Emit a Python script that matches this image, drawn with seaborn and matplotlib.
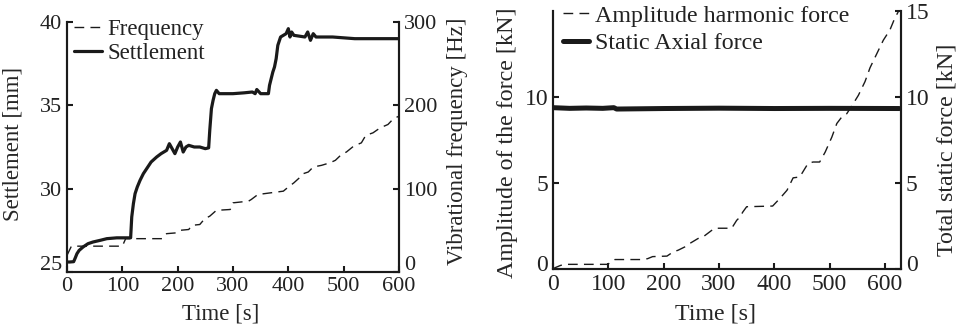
import matplotlib
matplotlib.use("Agg")
import matplotlib.pyplot as plt
import matplotlib.transforms as mtransforms
import seaborn as sns

# ---------------- data ----------------
settle_t = [0, 5, 12, 15, 18, 22, 29, 38, 47, 60, 72, 90, 108, 115, 117, 120, 123, 127,
            132, 138, 144, 152, 162, 170, 180, 185, 190, 195, 200, 205, 210, 215, 220,
            230, 240, 250, 256, 258, 261, 264, 267, 270, 275, 285, 300, 320, 335, 340,
            343, 350, 364, 366, 369, 372, 375, 378, 381, 386, 391, 396, 400, 403, 406,
            410, 420, 430, 435, 440, 445, 450, 460, 480, 500, 520, 540, 560, 580, 600]
settle_mm = [25.6, 25.6, 25.62, 25.85, 26.1, 26.3, 26.5, 26.7, 26.8, 26.9, 27.0, 27.05,
             27.05, 27.05, 28.3, 29.1, 29.7, 30.1, 30.5, 30.9, 31.2, 31.6, 31.9, 32.1,
             32.3, 32.7, 32.4, 32.1, 32.5, 32.8, 32.2, 32.5, 32.6, 32.5, 32.5, 32.4,
             32.45, 33.5, 34.8, 35.3, 35.7, 35.9, 35.7, 35.7, 35.7, 35.75, 35.8, 35.7,
             35.95, 35.7, 35.7, 36.2, 36.6, 37.0, 37.3, 37.8, 38.6, 39.1, 39.2, 39.3,
             39.6, 39.1, 39.4, 39.2, 39.15, 39.1, 39.4, 38.9, 39.3, 39.1, 39.1, 39.1,
             39.05, 39.0, 39.0, 39.0, 39.0, 39.0]

freq_t = [0, 8, 100, 106, 172, 180, 198, 204, 220, 226, 240, 249, 258, 270, 295, 300,
          328, 333, 345, 391, 400, 410, 420, 427, 436, 445, 460, 475, 485, 496, 505,
          518, 532, 540, 553, 566, 580, 590, 600]
freq_hz = [20, 31, 31, 40, 40, 46, 47, 50, 51, 56, 57, 64, 67, 74, 75, 83, 85, 87, 93,
           97, 102, 107, 113, 118, 120, 126, 128, 131, 134, 141, 144, 151, 155, 164,
           167, 173, 177, 184, 187]

amp_t = [0, 4, 13, 20, 99, 106, 112, 161, 171, 180, 206, 217, 226, 238, 247, 262, 271,
         287, 292, 323, 332, 338, 343, 350, 397, 410, 423, 434, 446, 461, 470, 482, 492,
         504, 513, 522, 531, 543, 552, 564, 573, 585, 597, 609, 618, 624]
amp_kn = [0.0, 0.08, 0.2, 0.27, 0.27, 0.45, 0.55, 0.55, 0.6, 0.72, 0.75, 0.99, 1.09,
          1.28, 1.48, 1.77, 1.86, 2.25, 2.37, 2.37, 2.83, 3.02, 3.31, 3.62, 3.66, 4.1,
          4.58, 5.3, 5.35, 6.14, 6.22, 6.22, 6.8, 7.67, 8.46, 8.84, 9.03, 9.63, 10.1,
          10.9, 11.7, 12.5, 13.3, 13.9, 14.6, 14.95]

static_t = [0, 30, 60, 90, 110, 115, 200, 300, 400, 500, 626]
static_kn = [9.38, 9.34, 9.36, 9.34, 9.38, 9.30, 9.33, 9.35, 9.33, 9.34, 9.33]

x_ticks = [0, 100, 200, 300, 400, 500, 600]
settle_ticks = [25, 30, 35, 40]
freq_ticks = [0, 100, 200, 300]
amp_ticks = [0, 5, 10]
static_ticks = [0, 5, 10, 15]

# ---------------- style ----------------
sns.set_theme(style="ticks")
plt.rcParams["font.family"] = ["Liberation Serif", "DejaVu Serif"]
plt.rcParams["axes.linewidth"] = 1.5
plt.rcParams["text.color"] = "#222222"

W, H = 962, 333
fig = plt.figure(figsize=(W / 100, H / 100), dpi=100)

def px_axes(l, t, r, b):
    return fig.add_axes([l / W, 1 - b / H, (r - l) / W, (b - t) / H])

dash = (0, (7, 4.5))
ink = "#1a1a1a"

def style_axes(ax, side, fs):
    ax.set_facecolor("none")
    ax.spines["top"].set_visible(False)
    for s in ["left", "right", "bottom"]:
        ax.spines[s].set_color(ink)
        ax.spines[s].set_linewidth(1.5)
    ax.tick_params(axis="both", direction="in", length=4, width=1.5, colors=ink,
                   labelsize=fs, pad=3.5, labelcolor="#222222")
    if side == "left":
        ax.tick_params(axis="y", left=True, right=False, labelleft=True, labelright=False)
    else:
        ax.tick_params(axis="y", left=False, right=True, labelleft=False, labelright=True)

def lift_first_label(ax, pixels):
    tick = ax.yaxis.get_major_ticks()[0]
    off = mtransforms.ScaledTranslation(0, pixels / 100, fig.dpi_scale_trans)
    for lab in (tick.label1, tick.label2):
        lab.set_transform(lab.get_transform() + off)

# ---------------- left panel ----------------
ax1 = px_axes(67, 22, 399, 272)
ax2 = ax1.twinx()
sns.lineplot(x=settle_t, y=settle_mm, ax=ax1, color=ink, linewidth=2.3, sort=False,
             label="Settlement", legend=False)
sns.lineplot(x=freq_t, y=freq_hz, ax=ax2, color=ink, linewidth=1.0, linestyle=dash,
             sort=False, label="Frequency", legend=False)
ax1.set_xlim(0, 600)
ax1.set_ylim(25, 40)
ax2.set_ylim(0, 300)
ax1.set_xticks(x_ticks)
ax1.set_yticks(settle_ticks)
ax2.set_yticks(freq_ticks)
style_axes(ax1, "left", 16)
style_axes(ax2, "right", 16)
ax2.tick_params(axis="x", bottom=False, labelbottom=False)
ax1.set_xlabel("Time [s]", fontsize=16.5)
ax1.set_ylabel("Settlement [mm]", fontsize=16.5)
ax2.set_ylabel("Vibrational frequency [Hz]", fontsize=16.5)
ax1.xaxis.set_label_coords(0.462, -0.125)
ax1.yaxis.set_label_coords(-0.132, 0.512)
ax2.yaxis.set_label_coords(1.145, 0.524)
h1, l1 = ax1.get_legend_handles_labels()
h2, l2 = ax2.get_legend_handles_labels()
ax2.legend(h2 + h1, l2 + l1, loc="upper left", bbox_to_anchor=(74 / W, 1 - 19 / H),
           bbox_transform=fig.transFigure, frameon=False, fontsize=16.5,
           handlelength=1.2, handletextpad=0.25, labelspacing=0.14, borderpad=0,
           borderaxespad=0)
lift_first_label(ax1, 9)
lift_first_label(ax2, 9)

# ---------------- right panel ----------------
ax3 = px_axes(553, 11, 901, 269)
ax4 = ax3.twinx()
sns.lineplot(x=amp_t, y=amp_kn, ax=ax3, color=ink, linewidth=1.0, linestyle=dash,
             sort=False, label="Amplitude harmonic force", legend=False)
sns.lineplot(x=static_t, y=static_kn, ax=ax4, color=ink, linewidth=3.6, sort=False,
             label="Static Axial force", legend=False)
ax3.set_xlim(0, 629)
ax3.set_ylim(0, 15)
ax4.set_ylim(0, 15)
ax3.set_xticks(x_ticks)
ax3.set_yticks(amp_ticks)
ax4.set_yticks(static_ticks)
style_axes(ax3, "left", 17)
style_axes(ax4, "right", 17)
ax4.tick_params(axis="x", bottom=False, labelbottom=False)
ax3.set_xlabel("Time [s]", fontsize=17.3)
ax3.set_ylabel("Amplitude of the force [kN]", fontsize=17.3)
ax4.set_ylabel("Total static force [kN]", fontsize=17.3)
ax3.xaxis.set_label_coords(0.468, -0.135)
ax3.yaxis.set_label_coords(-0.10, 0.49)
ax4.yaxis.set_label_coords(1.103, 0.461)
h3, l3 = ax3.get_legend_handles_labels()
h4, l4 = ax4.get_legend_handles_labels()
ax4.legend(h3 + h4, l3 + l4, loc="upper left", bbox_to_anchor=(563 / W, 1 - 5 / H),
           bbox_transform=fig.transFigure, frameon=False, fontsize=17.3,
           handlelength=1.1, handletextpad=0.25, labelspacing=0.22, borderpad=0,
           borderaxespad=0)
lift_first_label(ax3, 6)
lift_first_label(ax4, 6)

fig.savefig("out.png", dpi=100, facecolor="white")
